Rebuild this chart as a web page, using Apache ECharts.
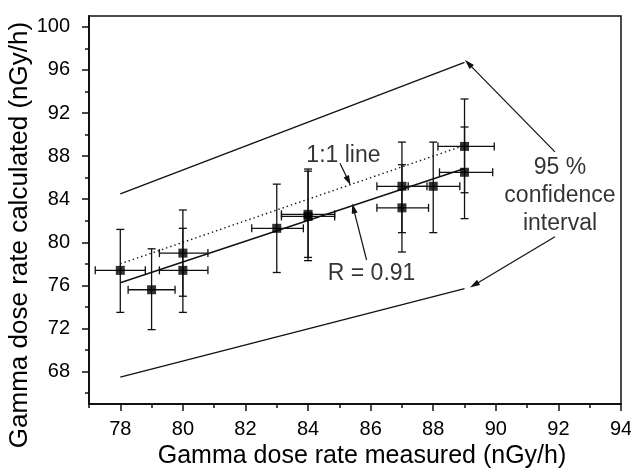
<!DOCTYPE html>
<html>
<head>
<meta charset="utf-8">
<script src="https://cdn.jsdelivr.net/npm/echarts@6/dist/echarts.min.js"></script>
<style>html,body{margin:0;padding:0;background:#fff;}#c{width:631px;height:471px;}</style>
</head>
<body>
<div id="c"></div>
<script>
// ---- data ----
const xMeasured   = [78, 79, 80, 80, 83, 84, 84, 87, 87, 88, 89, 89];
const yCalculated = [77.4, 75.6, 79.0, 77.4, 81.3, 82.6, 82.4, 85.2, 83.2, 85.2, 88.9, 86.5];
const yErrLow     = [73.5, 71.9, 75.0, 73.5, 77.2, 78.6, 78.3, 80.9, 79.1, 80.9, 84.6, 82.2];
const yErrHigh    = [81.2, 79.4, 83.0, 81.3, 85.4, 86.8, 86.6, 89.3, 87.2, 89.3, 93.3, 90.7];
const xErrLow     = [77.2, 78.25, 79.25, 79.25, 82.2, 83.15, 83.15, 86.2, 86.2, 87.2, 88.15, 88.2];
const xErrHigh    = [78.8, 79.75, 80.8, 80.8, 83.85, 84.85, 84.85, 87.8, 87.85, 88.85, 89.95, 89.9];

const upperCI  = [[78, 84.5], [89, 96.7]];
const lowerCI  = [[78, 67.5], [89, 75.7]];
const fitLine  = [[78, 76.25], [89, 86.85]];
const oneToOne = [[78, 78], [89, 89]];

const xMajorTicks = [78, 80, 82, 84, 86, 88, 90, 92, 94];
const xMinorTicks = [77, 79, 81, 83, 85, 87, 89, 91, 93];
const yMajorTicks = [68, 72, 76, 80, 84, 88, 92, 96, 100];
const yMinorTicks = [66, 70, 74, 78, 82, 86, 90, 94, 98];

// annotations (data coordinates)
const annotationTexts = [
  {name: '1:1 line', value: [85.13, 88.0]},
  {name: 'R = 0.91', value: [86.03, 77.12]},
  {name: '95 %\nconfidence\ninterval', value: [92.05, 84.3]}
];
const arrows = [
  [[85.02, 87.33], [85.29, 85.71]],
  [[85.87, 78.36], [85.45, 83.15]],
  [[91.89, 88.4], [89.12, 96.6]],
  [[91.89, 80.52], [89.31, 76.04]]
];

// ---- build ----
const errData = xMeasured.map((x, i) => [x, yCalculated[i], xErrLow[i], xErrHigh[i], yErrLow[i], yErrHigh[i]]);
const pointData = xMeasured.map((x, i) => [x, yCalculated[i]]);
const INK = '#111';
const FONT = 'Liberation Sans, Arial, sans-serif';

function renderErr(params, api) {
  const x = api.value(0), y = api.value(1);
  const pT = api.coord([x, api.value(5)]);
  const pB = api.coord([x, api.value(4)]);
  const pL = api.coord([api.value(2), y]);
  const pR = api.coord([api.value(3), y]);
  const c = 4;
  const st = {stroke: INK, lineWidth: 1.3};
  const ln = (x1, y1, x2, y2) => ({type: 'line', shape: {x1, y1, x2, y2}, style: st});
  return {type: 'group', children: [
    ln(pT[0], pT[1], pB[0], pB[1]),
    ln(pT[0] - c, pT[1], pT[0] + c, pT[1]),
    ln(pB[0] - c, pB[1], pB[0] + c, pB[1]),
    ln(pL[0], pL[1], pR[0], pR[1]),
    ln(pL[0], pL[1] - c, pL[0], pL[1] + c),
    ln(pR[0], pR[1] - c, pR[0], pR[1] + c)
  ]};
}

const chart = echarts.init(document.getElementById('c'), null, {renderer: 'canvas'});
const baseX = {type: 'value', min: 77, max: 94, gridIndex: 0, position: 'bottom'};
const baseY = {type: 'value', min: 65, max: 101, gridIndex: 0, position: 'left'};
chart.setOption({
  animation: false,
  backgroundColor: '#fff',
  grid: {left: 89, top: 16, right: 10, bottom: 67, containLabel: false, outerBoundsMode: 'none',
    show: true, borderColor: INK, borderWidth: 1.5, backgroundColor: 'transparent'},
  xAxis: [
    Object.assign({}, baseX, {
      name: 'Gamma dose rate measured (nGy/h)', nameLocation: 'middle', nameGap: 40,
      nameTextStyle: {fontSize: 25, color: '#000', fontFamily: FONT, padding: [0, 0, 0, 14]},
      axisLine: {show: true, lineStyle: {color: INK, width: 2}},
      axisTick: {show: true, inside: false, length: 7, customValues: xMajorTicks, lineStyle: {color: INK, width: 1.5}},
      axisLabel: {show: true, customValues: xMajorTicks, margin: 15, fontSize: 20, color: '#000', fontFamily: FONT},
      splitLine: {show: false}
    }),
    Object.assign({}, baseX, {
      axisLine: {show: false},
      axisTick: {show: true, inside: false, length: 4, customValues: xMinorTicks, lineStyle: {color: INK, width: 1.5}},
      axisLabel: {show: false},
      splitLine: {show: false}
    })
  ],
  yAxis: [
    Object.assign({}, baseY, {
      name: 'Gamma dose rate calculated (nGy/h)', nameLocation: 'middle', nameGap: 56, nameMoveOverlap: false,
      nameTextStyle: {fontSize: 26, color: '#000', fontFamily: FONT, padding: [0, 50, 0, 0]},
      axisLine: {show: true, lineStyle: {color: INK, width: 2}},
      axisTick: {show: true, inside: false, length: 7, customValues: yMajorTicks, lineStyle: {color: INK, width: 1.5}},
      axisLabel: {show: true, customValues: yMajorTicks, margin: 19, fontSize: 20, color: '#000', fontFamily: FONT},
      splitLine: {show: false}
    }),
    Object.assign({}, baseY, {
      axisLine: {show: false},
      axisTick: {show: true, inside: false, length: 4, customValues: yMinorTicks, lineStyle: {color: INK, width: 1.5}},
      axisLabel: {show: false},
      splitLine: {show: false}
    })
  ],
  series: [
    {type: 'line', name: 'upper', data: upperCI, symbol: 'none', lineStyle: {color: INK, width: 1.4}, z: 2},
    {type: 'line', name: 'lower', data: lowerCI, symbol: 'none', lineStyle: {color: INK, width: 1.4}, z: 2},
    {type: 'line', name: 'fit', data: fitLine, symbol: 'none', lineStyle: {color: INK, width: 1.4}, z: 2},
    {type: 'line', name: '1:1', data: oneToOne, symbol: 'none', lineStyle: {color: INK, width: 1.4, type: [1.4, 3]}, z: 2},
    {type: 'custom', name: 'err', renderItem: renderErr, data: errData, encode: {x: [0, 2, 3], y: [1, 4, 5]}, z: 3},
    {type: 'scatter', name: 'pts', data: pointData, symbol: 'rect', symbolSize: 9, itemStyle: {color: '#000'}, z: 4},
    {type: 'scatter', name: 'notes', data: annotationTexts, symbolSize: 0, z: 5,
      label: {show: true, position: 'inside', formatter: '{b}', fontSize: 23, lineHeight: 28, color: '#000', fontFamily: FONT, align: 'center'},
      markLine: {
        silent: true, symbol: ['none', 'triangle'], symbolSize: [6, 10],
        label: {show: false},
        lineStyle: {color: INK, width: 1.2, type: 'solid'},
        data: arrows.map(a => [{coord: a[0]}, {coord: a[1]}])
      }
    }
  ]
});
</script>
</body>
</html>
